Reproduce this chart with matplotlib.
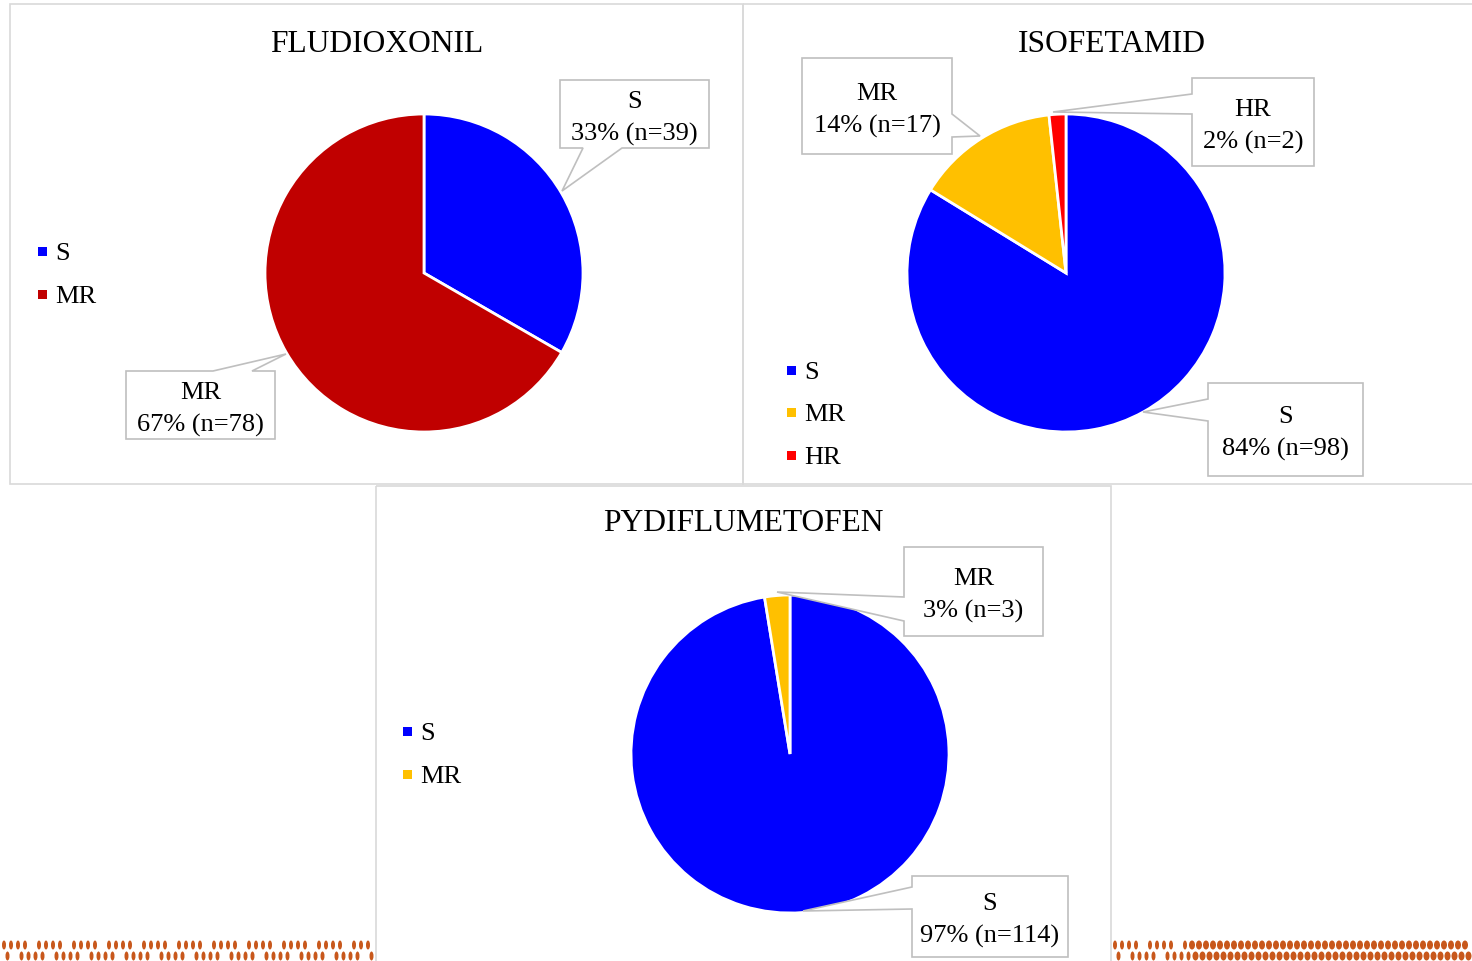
import numpy as np
import matplotlib.pyplot as plt
from matplotlib.patches import Polygon, Rectangle, Ellipse

plt.rcParams['font.family'] = ['Liberation Serif', 'DejaVu Serif']

# data
titles = ["FLUDIOXONIL", "ISOFETAMID", "PYDIFLUMETOFEN"]
fludi_cats = ["S", "MR"]
fludi_n = [39, 78]
fludi_pct = [33, 67]
isofe_cats = ["S", "MR", "HR"]
isofe_n = [98, 17, 2]
isofe_pct = [84, 14, 2]
pydi_cats = ["S", "MR"]
pydi_n = [114, 3]
pydi_pct = [97, 3]

cat_colors = {"S": "#0000FF", "MR": "#C00000", "HR": "#FF0000"}
mr_yellow = "#FFC000"

W, H = 1472, 962
fig = plt.figure(figsize=(W / 100, H / 100), dpi=100)
fig.patch.set_facecolor("white")


def pie_axes(cx, cy, r):
    return fig.add_axes([(cx - r) / W, 1 - (cy + r) / H, 2 * r / W, 2 * r / H])


def draw_pie(cx, cy, r, n, colors):
    ax = pie_axes(cx, cy, r)
    ax.pie(n, colors=colors, startangle=90, counterclock=False, radius=1,
           wedgeprops=dict(edgecolor="white", linewidth=2))
    ax.set_xlim(-1.0, 1.0)
    ax.set_ylim(-1.0, 1.0)
    ax.set_aspect("equal")
    ax.axis("off")


draw_pie(424, 274, 159, fludi_n, [cat_colors["S"], cat_colors["MR"]])
draw_pie(1066, 274, 159, isofe_n, [cat_colors["S"], mr_yellow, cat_colors["HR"]])
draw_pie(790, 755, 159, pydi_n, [cat_colors["S"], mr_yellow])

# overlay for frames, callouts, legends
ov = fig.add_axes([0, 0, 1, 1], zorder=5)
ov.set_xlim(0, W)
ov.set_ylim(H, 0)
ov.axis("off")
ov.patch.set_alpha(0)

frame_col = "#D9D9D9"
for x0, y0, x1, y1 in [(10, 5, 743, 485), (743, 5, 1480, 485), (376, 487, 1111, 970)]:
    ov.add_patch(Rectangle((x0, y0), x1 - x0, y1 - y0, fill=False,
                           edgecolor=frame_col, linewidth=1.2))

tfs = 22.7
ov.text(377, 45, titles[0], ha="center", va="center", fontsize=tfs)
ov.text(1112, 45, titles[1], ha="center", va="center", fontsize=tfs)
ov.text(743, 524, titles[2], ha="center", va="center", fontsize=tfs)

lfs = 19


def callout(box, side, p1, p2, tip, line1, line2):
    L, T, R, B = box
    if side == "left":
        pts = [(L, T), (R, T), (R, B), (L, B), (L, p2), tip, (L, p1)]
    elif side == "right":
        pts = [(L, T), (R, T), (R, p1), tip, (R, p2), (R, B), (L, B)]
    elif side == "bottom":
        pts = [(L, T), (R, T), (R, B), (p2, B), tip, (p1, B), (L, B)]
    else:
        pts = [(L, T), (p1, T), tip, (p2, T), (R, T), (R, B), (L, B)]
    ov.add_patch(Polygon(pts, closed=True, facecolor="white",
                         edgecolor="#BFBFBF", linewidth=1.2))
    cx = (L + R) / 2
    cy = (T + B) / 2
    ov.text(cx, cy - 13, line1, ha="center", va="center", fontsize=lfs)
    ov.text(cx, cy + 19, line2, ha="center", va="center", fontsize=lfs)


def lab(pct, n):
    return f"{pct}% (n={n})"


callout((560, 81, 709, 149), "bottom", 583, 622, (562, 192),
        fludi_cats[0], lab(fludi_pct[0], fludi_n[0]))
callout((126, 372, 275, 440), "top", 213, 252, (286, 355),
        fludi_cats[1], lab(fludi_pct[1], fludi_n[1]))
callout((802, 59, 952, 155), "right", 115, 138, (980, 137),
        isofe_cats[1], lab(isofe_pct[1], isofe_n[1]))
callout((1192, 79, 1314, 167), "left", 95, 115, (1053, 113),
        isofe_cats[2], lab(isofe_pct[2], isofe_n[2]))
callout((1208, 384, 1363, 477), "left", 400, 422, (1143, 413),
        isofe_cats[0], lab(isofe_pct[0], isofe_n[0]))
callout((904, 548, 1043, 637), "left", 598, 622, (777, 593),
        pydi_cats[1], lab(pydi_pct[1], pydi_n[1]))
callout((912, 877, 1068, 958), "left", 888, 910, (803, 912),
        pydi_cats[0], lab(pydi_pct[0], pydi_n[0]))


def legend(x, ys, cats, colors):
    for y, c, col in zip(ys, cats, colors):
        ov.add_patch(Rectangle((x - 4.5, y - 4.5), 9, 9, facecolor=col, edgecolor="none"))
        ov.text(x + 13, y + 2, c, ha="left", va="center", fontsize=lfs)


legend(42, [252, 295], fludi_cats, [cat_colors["S"], cat_colors["MR"]])
legend(791, [371, 413, 456], isofe_cats, [cat_colors["S"], mr_yellow, cat_colors["HR"]])
legend(407, [732, 775], pydi_cats, [cat_colors["S"], mr_yellow])

# decorative strip at the bottom
orange = "#C8581C"
for xa, xb, dense_from in [(0, 376, 9999), (1111, 1472, 1190)]:
    xs = np.arange(xa + 4, xb - 2, 7)
    for i, x in enumerate(xs):
        for j, y in enumerate([946, 957]):
            xx = x + (3.5 if j == 1 else 0)
            if xx > xb - 2:
                continue
            dense = xx >= dense_from
            if not dense and (i * 2 + j) % 5 == 3:
                continue
            w = 6 if dense else 4
            ov.add_patch(Ellipse((xx, y), w, 9, facecolor=orange, edgecolor="none"))

fig.savefig("out.png", dpi=100)
